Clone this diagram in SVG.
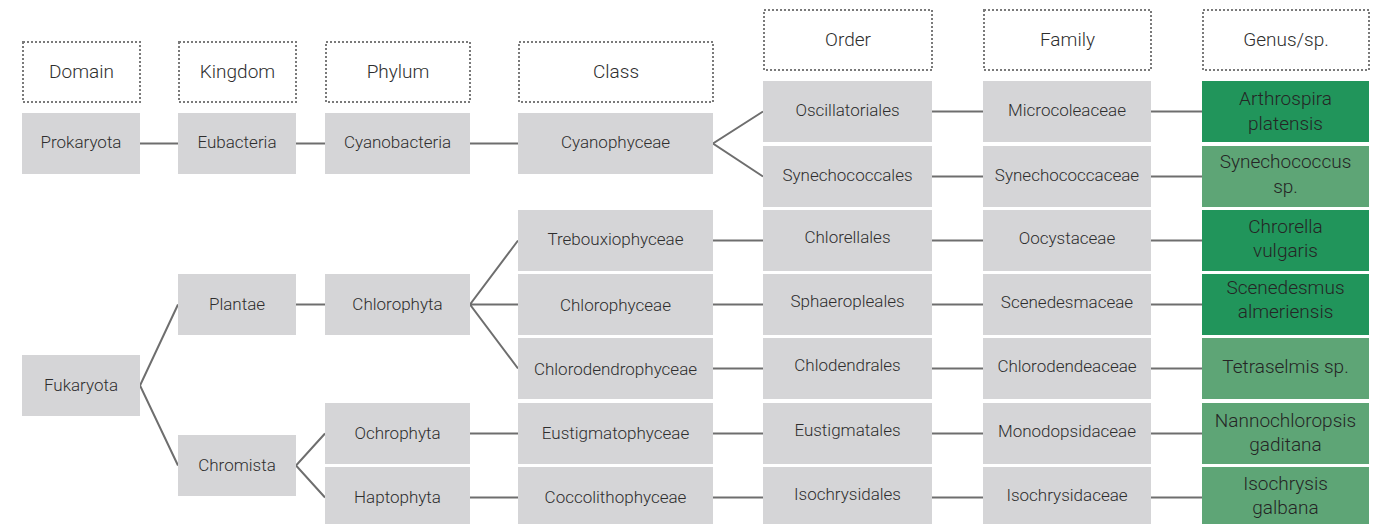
<svg xmlns="http://www.w3.org/2000/svg" width="1382" height="524" viewBox="0 0 1382 524">
<style>
.hdr{fill:#fff;stroke:#7a7a7a;stroke-width:2;stroke-dasharray:2 2}
.box{fill:#d5d5d7}
.dg{fill:#21955b}
.lg{fill:#5ea576}
.t{font-family:Roboto,"Liberation Sans",sans-serif;font-weight:300;font-size:17px;fill:#2e2e2e;text-anchor:middle}
.h{font-family:Roboto,"Liberation Sans",sans-serif;font-weight:300;font-size:19px;fill:#2e2e2e;text-anchor:middle}
.g{font-family:Roboto,"Liberation Sans",sans-serif;font-weight:300;font-size:19px;fill:#252525;text-anchor:middle}
.c{fill:none;stroke:#6e6e6e;stroke-width:2}
</style>
<rect width="1382" height="524" fill="#fff"/>
<g id="connectors">
<path class="c" d="M140 143.5H178M296 143.5H325M470 143.5H518"/>
<path class="c" d="M763 111.5L713 143.5L763 176.5"/>
<path class="c" d="M932 111.5H983M1151 111.5H1202M932 176.5H983M1151 176.5H1202"/>
<path class="c" d="M713 240.5H763M932 240.5H983M1151 240.5H1202"/>
<path class="c" d="M713 304.5H763M932 304.5H983M1151 304.5H1202"/>
<path class="c" d="M713 368.5H763M932 368.5H983M1151 368.5H1202"/>
<path class="c" d="M470 433.5H518M713 433.5H763M932 433.5H983M1151 433.5H1202"/>
<path class="c" d="M470 497.5H518M713 497.5H763M932 497.5H983M1151 497.5H1202"/>
<path class="c" d="M518 240.5L470 304.5L518 368.5M470 304.5H518"/>
<path class="c" d="M296 304.5H325"/>
<path class="c" d="M178 304.5L140 385.5L178 465.5"/>
<path class="c" d="M325 433.5L296 465.5L325 497.5"/>
</g>
<g id="hdr-domain"><rect class="hdr" x="23" y="42" width="117" height="60"/><text class="h" x="81.5" y="77.5">Domain</text></g>
<g id="hdr-kingdom"><rect class="hdr" x="179" y="42" width="117" height="60"/><text class="h" x="237.5" y="77.5">Kingdom</text></g>
<g id="hdr-phylum"><rect class="hdr" x="326" y="42" width="144" height="60"/><text class="h" x="398" y="77.5">Phylum</text></g>
<g id="hdr-class"><rect class="hdr" x="519" y="42" width="194" height="60"/><text class="h" x="616" y="77.5">Class</text></g>
<g id="hdr-order"><rect class="hdr" x="764" y="10" width="168" height="60"/><text class="h" x="848" y="45.5">Order</text></g>
<g id="hdr-family"><rect class="hdr" x="984" y="10" width="167" height="60"/><text class="h" x="1067.5" y="45.5">Family</text></g>
<g id="hdr-genus"><rect class="hdr" x="1203" y="10" width="166" height="60"/><text class="h" x="1286" y="45.5">Genus/sp.</text></g>

<g id="prokaryota"><rect class="box" x="22" y="113" width="118" height="61"/><text class="t" x="81" y="148">Prokaryota</text></g>
<g id="eubacteria"><rect class="box" x="178" y="113" width="118" height="61"/><text class="t" x="237" y="148">Eubacteria</text></g>
<g id="cyanobacteria"><rect class="box" x="325" y="113" width="145" height="61"/><text class="t" x="397.5" y="148">Cyanobacteria</text></g>
<g id="cyanophyceae"><rect class="box" x="518" y="113" width="195" height="61"/><text class="t" x="615.5" y="148">Cyanophyceae</text></g>

<g id="oscillatoriales"><rect class="box" x="763" y="81" width="169" height="61"/><text class="t" x="847.5" y="116">Oscillatoriales</text></g>
<g id="microcoleaceae"><rect class="box" x="983" y="81" width="168" height="61"/><text class="t" x="1067" y="116">Microcoleaceae</text></g>
<g id="arthrospira"><rect class="dg" x="1202" y="81" width="167" height="61"/><text class="g" x="1285.5" y="105">Arthrospira</text><text class="g" x="1285.5" y="130">platensis</text></g>

<g id="synechococcales"><rect class="box" x="763" y="146" width="169" height="61"/><text class="t" x="847.5" y="180.5">Synechococcales</text></g>
<g id="synechococcaceae"><rect class="box" x="983" y="146" width="168" height="61"/><text class="t" x="1067" y="180.5">Synechococcaceae</text></g>
<g id="synechococcus"><rect class="lg" x="1202" y="146" width="167" height="61"/><text class="g" x="1285.5" y="168">Synechococcus</text><text class="g" x="1285.5" y="193">sp.</text></g>

<g id="trebouxiophyceae"><rect class="box" x="518" y="210" width="195" height="61"/><text class="t" x="615.5" y="245">Trebouxiophyceae</text></g>
<g id="chlorellales"><rect class="box" x="763" y="210" width="169" height="61"/><text class="t" x="847.5" y="243">Chlorellales</text></g>
<g id="oocystaceae"><rect class="box" x="983" y="210" width="168" height="61"/><text class="t" x="1067" y="244">Oocystaceae</text></g>
<g id="chrorella"><rect class="dg" x="1202" y="210" width="167" height="61"/><text class="g" x="1285.5" y="233">Chrorella</text><text class="g" x="1285.5" y="257">vulgaris</text></g>

<g id="plantae"><rect class="box" x="178" y="274" width="118" height="61"/><text class="t" x="237" y="309.5">Plantae</text></g>
<g id="chlorophyta"><rect class="box" x="325" y="274" width="145" height="61"/><text class="t" x="397.5" y="309.5">Chlorophyta</text></g>
<g id="chlorophyceae"><rect class="box" x="518" y="274" width="195" height="61"/><text class="t" x="615.5" y="310.5">Chlorophyceae</text></g>
<g id="sphaeropleales"><rect class="box" x="763" y="274" width="169" height="61"/><text class="t" x="847.5" y="307">Sphaeropleales</text></g>
<g id="scenedesmaceae"><rect class="box" x="983" y="274" width="168" height="61"/><text class="t" x="1067" y="308">Scenedesmaceae</text></g>
<g id="scenedesmus"><rect class="dg" x="1202" y="274" width="167" height="61"/><text class="g" x="1285.5" y="294">Scenedesmus</text><text class="g" x="1285.5" y="318">almeriensis</text></g>

<g id="fukaryota"><rect class="box" x="22" y="355" width="118" height="61"/><text class="t" x="81" y="391">Fukaryota</text></g>
<g id="chlorodendrophyceae"><rect class="box" x="518" y="338" width="195" height="61"/><text class="t" x="615.5" y="374.5">Chlorodendrophyceae</text></g>
<g id="chlodendrales"><rect class="box" x="763" y="338" width="169" height="61"/><text class="t" x="847.5" y="371">Chlodendrales</text></g>
<g id="chlorodendeaceae"><rect class="box" x="983" y="338" width="168" height="61"/><text class="t" x="1067" y="372">Chlorodendeaceae</text></g>
<g id="tetraselmis"><rect class="lg" x="1202" y="338" width="167" height="61"/><text class="g" x="1285.5" y="373">Tetraselmis sp.</text></g>

<g id="chromista"><rect class="box" x="178" y="435" width="118" height="61"/><text class="t" x="237" y="470.5">Chromista</text></g>
<g id="ochrophyta"><rect class="box" x="325" y="403" width="145" height="61"/><text class="t" x="397.5" y="438.5">Ochrophyta</text></g>
<g id="eustigmatophyceae"><rect class="box" x="518" y="403" width="195" height="61"/><text class="t" x="615.5" y="439">Eustigmatophyceae</text></g>
<g id="eustigmatales"><rect class="box" x="763" y="403" width="169" height="61"/><text class="t" x="847.5" y="436">Eustigmatales</text></g>
<g id="monodopsidaceae"><rect class="box" x="983" y="403" width="168" height="61"/><text class="t" x="1067" y="437">Monodopsidaceae</text></g>
<g id="nannochloropsis"><rect class="lg" x="1202" y="403" width="167" height="61"/><text class="g" x="1285.5" y="427">Nannochloropsis</text><text class="g" x="1285.5" y="451">gaditana</text></g>

<g id="haptophyta"><rect class="box" x="325" y="467" width="145" height="61"/><text class="t" x="397.5" y="502.5">Haptophyta</text></g>
<g id="coccolithophyceae"><rect class="box" x="518" y="467" width="195" height="61"/><text class="t" x="615.5" y="503">Coccolithophyceae</text></g>
<g id="isochrysidales"><rect class="box" x="763" y="467" width="169" height="61"/><text class="t" x="847.5" y="500">Isochrysidales</text></g>
<g id="isochrysidaceae"><rect class="box" x="983" y="467" width="168" height="61"/><text class="t" x="1067" y="501">Isochrysidaceae</text></g>
<g id="isochrysis"><rect class="lg" x="1202" y="467" width="167" height="61"/><text class="g" x="1285.5" y="490">Isochrysis</text><text class="g" x="1285.5" y="514">galbana</text></g>
</svg>
